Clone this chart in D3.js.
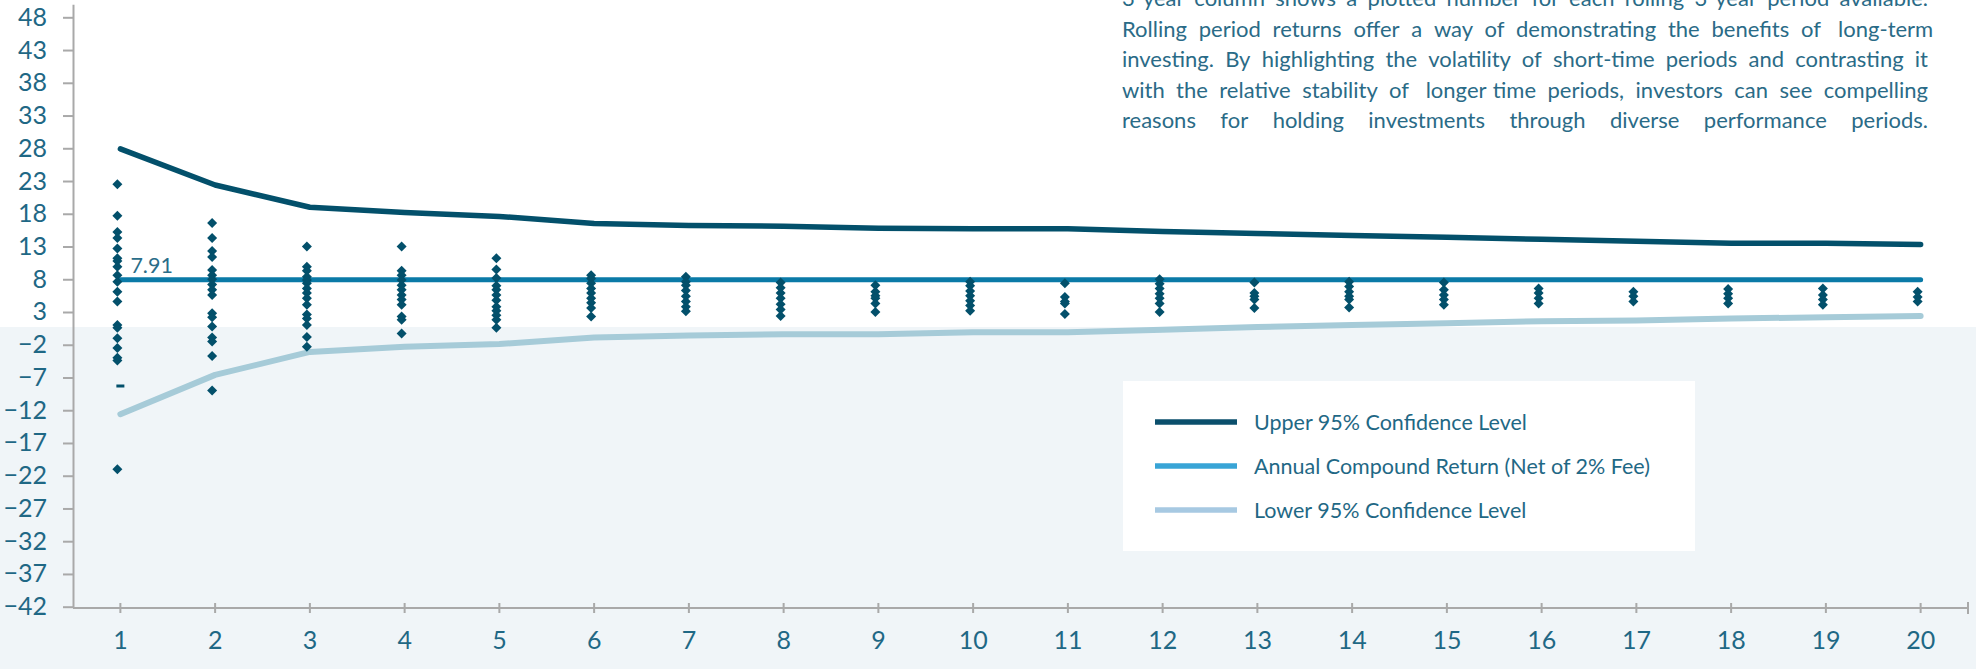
<!DOCTYPE html>
<html>
<head>
<meta charset="utf-8">
<script src="https://cdn.jsdelivr.net/npm/d3@7"></script>
<style>
  body { margin: 0; background: #fff; }
  svg { display: block; font-family: Lato, "Open Sans", sans-serif; }
</style>
</head>
<body>
<script>
// Chart data

const periods = [1, 2, 3, 4, 5, 6, 7, 8, 9, 10, 11, 12, 13, 14, 15, 16, 17, 18, 19, 20];

const upperLevel = [27.9, 22.4, 19.0, 18.2, 17.6, 16.5, 16.2, 16.1, 15.8, 15.7, 15.7, 15.3, 15.0, 14.7, 14.4, 14.1, 13.8, 13.5, 13.5, 13.3];
const lowerLevel = [-12.6, -6.6, -3.1, -2.3, -1.9, -0.9, -0.6, -0.4, -0.4, -0.1, -0.1, 0.3, 0.7, 1.0, 1.3, 1.6, 1.7, 2.0, 2.2, 2.4];
const annualReturn = 7.91;

// one list of rolling-period returns per period length
const rollingReturns = [
  [22.5, 17.7, 15.2, 14.3, 12.7, 11.2, 10.8, 9.9, 8.6, 7.6, 6.1, 4.6, 1.0, 0.6, -1.0, -2.5, -4.0, -4.4, -21.0],
  [16.6, 14.3, 12.3, 11.4, 9.4, 8.6, 8.0, 7.2, 6.4, 5.6, 2.8, 2.2, 0.8, -0.9, -1.5, -3.7, -9.0],
  [13.0, 9.9, 9.3, 8.4, 7.9, 7.4, 6.6, 5.9, 5.1, 4.1, 2.6, 2.0, 1.0, -0.8, -2.3],
  [13.0, 9.3, 8.6, 7.9, 7.1, 6.4, 5.6, 4.9, 4.1, 2.3, 1.8, -0.3],
  [11.2, 9.5, 8.2, 7.0, 6.4, 5.6, 4.8, 3.8, 3.2, 2.5, 1.8, 0.6],
  [8.6, 8.1, 7.4, 6.6, 5.9, 5.1, 4.4, 3.6, 2.3],
  [8.4, 7.6, 7.1, 6.3, 5.4, 4.6, 3.8, 3.1],
  [7.5, 6.7, 5.9, 5.1, 4.2, 3.4, 2.4],
  [7.1, 6.1, 5.5, 5.1, 4.3, 3.0],
  [7.6, 7.0, 6.2, 5.5, 4.7, 4.0, 3.2],
  [7.4, 5.3, 4.6, 4.3, 2.7],
  [8.0, 7.3, 6.6, 5.8, 5.1, 4.3, 3.0],
  [7.5, 5.9, 5.4, 4.9, 3.6],
  [7.6, 6.9, 6.1, 5.4, 4.9, 3.7],
  [7.5, 6.4, 5.6, 4.9, 4.1],
  [6.6, 5.9, 5.1, 4.3],
  [6.1, 5.4, 4.6],
  [6.5, 5.8, 5.1, 4.3],
  [6.6, 5.6, 4.9, 4.1],
  [6.1, 5.3, 4.6]
];
// the single point drawn as a dash instead of a diamond
const dashPoints = [{ period: 1, value: -8.3 }];

const yTicks = [48, 43, 38, 33, 28, 23, 18, 13, 8, 3, -2, -7, -12, -17, -22, -27, -32, -37, -42];

const legendLabels = ["Upper 95% Confidence Level", "Annual Compound Return (Net of 2% Fee)", "Lower 95% Confidence Level"];

const noteLines = [
  "3-year column shows a plotted number for each rolling 3-year period available.",
  "Rolling period returns offer a way of demonstrating the benefits of long-term",
  "investing. By highlighting the volatility of short-time periods and contrasting it",
  "with the relative stability of longer time periods, investors can see compelling",
  "reasons for holding investments through diverse performance periods."
];

// Dimensions
const width = 1976;
const height = 669;
const plot = { left: 73, right: 1968, top: 4.2, bottom: 606.7 };

const textColor = "#1f6885";
const axisColor = "#a9a9a9";
const dotColor = "#03506b";

const svg = d3.select("body").append("svg")
  .attr("width", width)
  .attr("height", height);

// light band behind the lower part of the page
svg.append("rect")
  .attr("x", 0).attr("y", 327)
  .attr("width", width).attr("height", height - 327)
  .attr("fill", "#f0f5f8");

// Scales
const x = d3.scaleBand()
  .domain(periods)
  .range([plot.left, plot.right]);
const cx = p => x(p) + x.bandwidth() / 2;

const y = d3.scaleLinear()
  .domain([-42, 50])
  .range([plot.bottom, plot.top]);

// Y axis
const yAxis = svg.append("g")
  .attr("transform", `translate(${plot.left}, 0)`)
  .call(d3.axisLeft(y).tickValues(yTicks).tickSize(10).tickSizeOuter(0).tickPadding(16));

// X axis, ticks cross the axis line
const xAxis = svg.append("g")
  .attr("transform", `translate(0, 608)`)
  .call(d3.axisBottom(x).tickSize(5).tickPadding(18));
xAxis.selectAll(".tick line").attr("y1", -5).attr("y2", 5);
xAxis.select(".domain").attr("d", `M${plot.left},0H${plot.right}M${plot.right},-6V6`);

[yAxis, xAxis].forEach(g => {
  g.selectAll(".domain, .tick line").attr("stroke", axisColor).attr("stroke-width", 2);
  g.selectAll("text")
    .attr("fill", textColor)
    .style("font-family", "Lato, sans-serif")
    .style("font-size", "25px");
});

// Lines
const line = d3.line()
  .x(d => cx(d.period))
  .y(d => y(d.value));

const series = [
  { values: lowerLevel, color: "#a6cbd8", width: 6 },
  { values: upperLevel, color: "#03506b", width: 5.5 },
  { values: periods.map(() => annualReturn), color: "#0a7aa7", width: 5 }
];

series.forEach(s => {
  svg.append("path")
    .datum(periods.map((p, i) => ({ period: p, value: s.values[i] })))
    .attr("d", line)
    .attr("fill", "none")
    .attr("stroke", s.color)
    .attr("stroke-width", s.width)
    .attr("stroke-linecap", "round")
    .attr("stroke-linejoin", "round");
});

svg.append("text")
  .attr("x", cx(1) + 10)
  .attr("y", y(annualReturn) - 7)
  .attr("fill", "#2a6d89")
  .style("font-size", "21.5px")
  .text(annualReturn.toFixed(2));

// Rolling return points (diamonds)
const points = rollingReturns.flatMap((vals, i) => vals.map(v => ({ period: periods[i], value: v })));
const diamond = d3.symbol(d3.symbolSquare, 50);

svg.append("g")
  .selectAll("path")
  .data(points)
  .join("path")
  .attr("d", diamond)
  .attr("transform", d => `translate(${cx(d.period) - 3}, ${y(d.value)}) rotate(45)`)
  .attr("fill", dotColor);

svg.append("g")
  .selectAll("rect")
  .data(dashPoints)
  .join("rect")
  .attr("x", d => cx(d.period) - 4)
  .attr("y", d => y(d.value) - 1.5)
  .attr("width", 8)
  .attr("height", 3)
  .attr("fill", dotColor);

// Legend
const legend = svg.append("g");
legend.append("rect")
  .attr("x", 1123).attr("y", 381)
  .attr("width", 572).attr("height", 170)
  .attr("fill", "#fff");

const legendColors = ["#0b4f6c", "#38a4d6", "#a7c9e2"];
legendLabels.forEach((label, i) => {
  const ly = 422 + i * 44;
  legend.append("line")
    .attr("x1", 1155).attr("x2", 1237)
    .attr("y1", ly).attr("y2", ly)
    .attr("stroke", legendColors[i])
    .attr("stroke-width", 5.5);
  legend.append("text")
    .attr("x", 1254).attr("y", ly)
    .attr("dominant-baseline", "central")
    .attr("fill", textColor)
    .style("font-size", "21.5px")
    .text(label);
});

// Note text, justified on both sides
const noteLeft = 1122, noteRight = 1928;
const note = svg.append("g")
  .attr("fill", "#2a6b87")
  .style("font-size", "22px");

noteLines.forEach((txt, i) => {
  const words = txt.split(" ");
  const t = note.append("text").attr("y", 6 + i * 30.5);
  const spans = t.selectAll("tspan").data(words).join("tspan").text(d => d);
  const widths = spans.nodes().map(n => n.getComputedTextLength());
  const gap = (noteRight - noteLeft - d3.sum(widths)) / (words.length - 1);
  let pos = noteLeft;
  spans.attr("x", (d, j) => {
    const p = pos;
    pos += widths[j] + gap;
    return p;
  });
});
</script>
</body>
</html>
